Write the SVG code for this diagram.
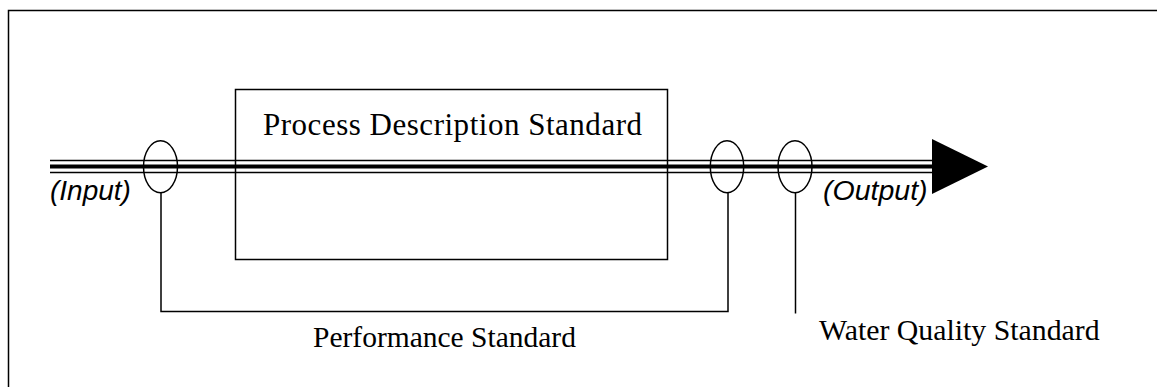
<svg xmlns="http://www.w3.org/2000/svg" width="1157" height="387" viewBox="0 0 1157 387">
<style>
.ln{fill:none;stroke:#000;stroke-width:1.5}
.serif{font-family:"Liberation Serif","Times New Roman",serif;fill:#000}
.ital{font-family:"Liberation Sans",Arial,sans-serif;font-style:italic;fill:#000}
</style>
<rect width="1157" height="387" fill="#fff"/>
<rect id="frame" x="8.5" y="10.5" width="1200" height="420" class="ln" stroke-width="2"/>
<g id="process">
<rect x="235.5" y="89.5" width="432" height="170" class="ln"/>
<text x="263" y="135" class="serif" font-size="31" textLength="379" lengthAdjust="spacing">Process Description Standard</text>
</g>
<g id="flow">
<line x1="50" y1="160.5" x2="934" y2="160.5" stroke="#000" stroke-width="1.6"/>
<line x1="50" y1="166.5" x2="934" y2="166.5" stroke="#000" stroke-width="3.8"/>
<line x1="50" y1="172.5" x2="934" y2="172.5" stroke="#000" stroke-width="1.6"/>
<polygon points="932,139 988,166.5 932,194" fill="#000"/>
</g>
<g id="input"><text x="50" y="200" class="ital" font-size="28">(Input)</text></g>
<g id="output"><text x="823" y="200" class="ital" font-size="28.5">(Output)</text></g>
<g id="sensor1"><ellipse cx="160.5" cy="166.7" rx="17" ry="26" class="ln"/></g>
<g id="sensor2"><ellipse cx="727" cy="166.7" rx="16.7" ry="26" class="ln"/></g>
<g id="sensor3"><ellipse cx="795" cy="166.7" rx="17" ry="26" class="ln"/></g>
<g id="connectors">
<polyline points="161,192.7 161,311.5 728,311.5 728,192.7" class="ln"/>
<line x1="795.5" y1="192.7" x2="795.5" y2="313.5" class="ln"/>
</g>
<g id="performance"><text x="313" y="347" class="serif" font-size="29.5">Performance Standard</text></g>
<g id="waterquality"><text x="819" y="340" class="serif" font-size="29.8">Water Quality Standard</text></g>
</svg>
